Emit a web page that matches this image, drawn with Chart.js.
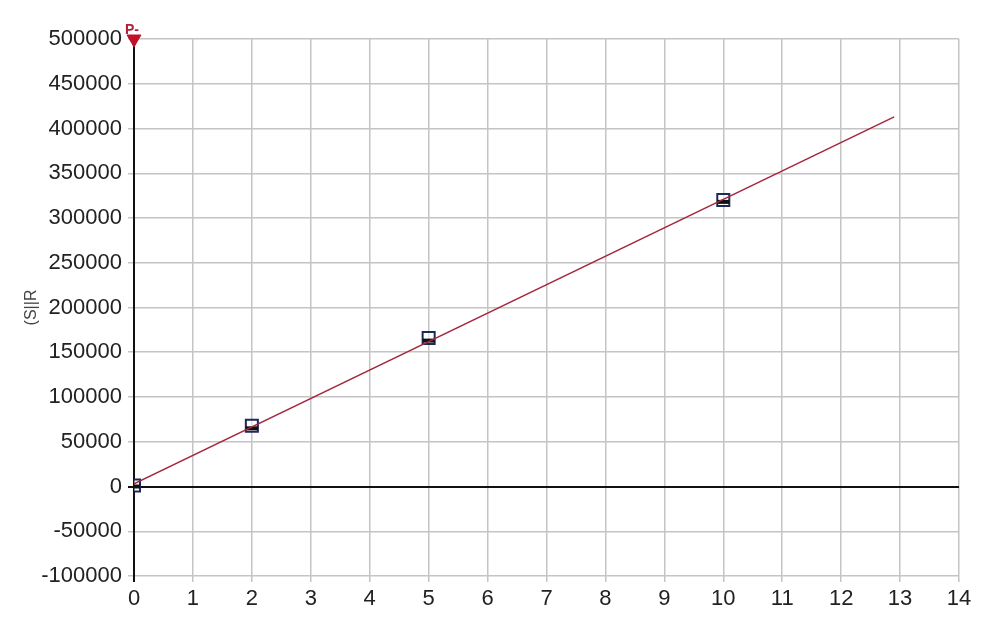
<!DOCTYPE html>
<html>
<head>
  <meta charset="UTF-8">
  <title>Calibration</title>
  <script src="https://cdn.jsdelivr.net/npm/chart.js"></script>
  <style>
    body { margin: 0; background: #fff; }
    .chart-container { width: 1000px; height: 618px; }
  </style>
</head>
<body>
  <div class="chart-container">
    <canvas id="calChart"></canvas>
  </div>

  <script>
    // standards: concentration vs response
    const xValues = [0, 2, 5, 10];
    const yValues = [1000, 68000, 166000, 320000];
    const yLower = [0, 65000, 163000, 318000];
    // fitted line end points
    const fitX = [0, 12.9];
    const fitY = [3000, 413000];
    // marker at top of y axis
    const markX = [0];
    const markY = [500000];
    const markLabel = 'P-';
    const yTitle = '(S||R';

    const FONT = { family: 'Arial, "Liberation Sans", sans-serif', size: 22 };

    const labelPlugin = {
      id: 'markLabel',
      afterDatasetsDraw(chart) {
        const ctx = chart.ctx;
        const x = chart.scales.x.getPixelForValue(markX[0]);
        const y = chart.scales.y.getPixelForValue(markY[0]);
        ctx.save();
        ctx.fillStyle = '#b0203a';
        ctx.font = 'bold 14px Arial, "Liberation Sans", sans-serif';
        ctx.textBaseline = 'bottom';
        ctx.fillText(markLabel, x - 9, y - 2);
        ctx.restore();
      }
    };

    new Chart(document.getElementById('calChart'), {
      type: 'scatter',
      data: {
        datasets: [
          {
            label: 'fit',
            data: fitX.map((x, i) => ({ x: x, y: fitY[i] })),
            showLine: true,
            borderColor: '#a3283e',
            borderWidth: 1.5,
            pointRadius: 0
          },
          {
            label: 'lower',
            data: xValues.map((x, i) => ({ x: x, y: yLower[i] })),
            pointStyle: 'line',
            borderColor: '#111',
            borderWidth: 4,
            pointRadius: 6
          },
          {
            label: 'std',
            data: xValues.map((x, i) => ({ x: x, y: yValues[i] })),
            pointStyle: 'rect',
            backgroundColor: 'rgba(255,255,255,0.5)',
            borderColor: '#1c2a5a',
            borderWidth: 2,
            pointRadius: 8.5
          },
          {
            label: 'mark',
            data: markX.map((x, i) => ({ x: x, y: markY[i] })),
            pointStyle: 'triangle',
            rotation: 180,
            backgroundColor: '#c0102a',
            borderColor: '#c0102a',
            pointRadius: 8,
            clip: false
          }
        ]
      },
      options: {
        responsive: true,
        maintainAspectRatio: false,
        animation: false,
        layout: { padding: { top: 39, right: 41, left: 0, bottom: 0 } },
        plugins: {
          legend: { display: false },
          tooltip: { enabled: false }
        },
        scales: {
          x: {
            type: 'linear',
            min: 0,
            max: 14,
            afterFit(s) { s.height = 42; },
            ticks: { stepSize: 1, color: '#222', font: FONT, padding: 4 },
            grid: {
              color: c => c.tick && c.tick.value === 0 ? '#111' : '#c4c4c4',
              lineWidth: c => c.tick && c.tick.value === 0 ? 2 : 1.5,
              tickLength: 6
            },
            border: { display: false }
          },
          y: {
            min: -100000,
            max: 500000,
            afterFit(s) { s.width = 134; },
            title: {
              display: true,
              text: yTitle,
              color: '#444',
              font: { family: 'Arial, "Liberation Sans", sans-serif', size: 16 },
              padding: { top: 22, bottom: 0 }
            },
            ticks: {
              stepSize: 50000, color: '#222', font: FONT, padding: 6,
              callback: v => String(v)
            },
            grid: {
              color: c => c.tick && c.tick.value === 0 ? '#111' : '#c4c4c4',
              lineWidth: c => c.tick && c.tick.value === 0 ? 2 : 1.5,
              tickLength: 6
            },
            border: { display: true, color: '#111', width: 2 }
          }
        }
      },
      plugins: [labelPlugin]
    });
  </script>
</body>
</html>
